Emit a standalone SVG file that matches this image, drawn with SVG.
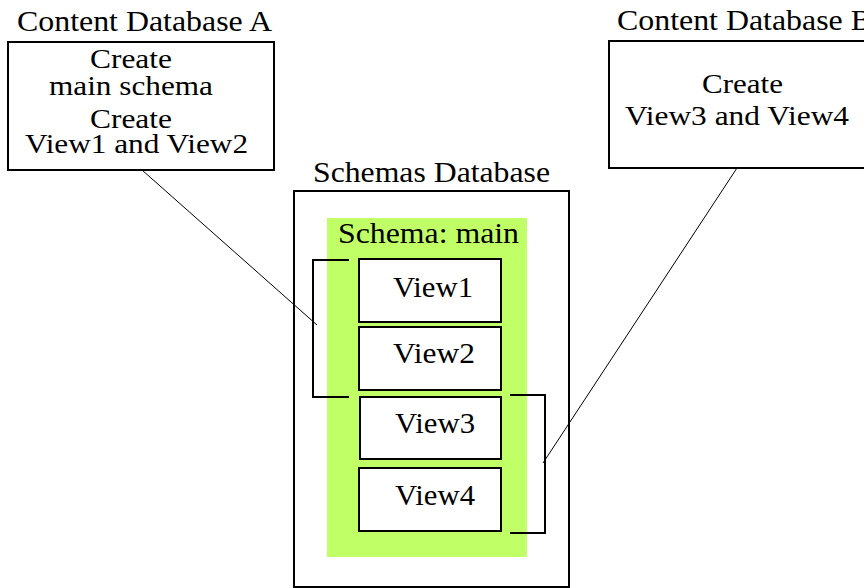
<svg xmlns="http://www.w3.org/2000/svg" width="864" height="588" viewBox="0 0 864 588">
<style>
text{font-family:"Liberation Serif","Times New Roman",serif;font-size:29px;fill:#000}
.s{font-size:27px}
.box{fill:#fff;stroke:#000;stroke-width:2}
.br{fill:none;stroke:#000;stroke-width:2}
.ln{fill:none;stroke:#000;stroke-width:1}
</style>
<rect width="864" height="588" fill="#fff"/>
<g id="dbA">
<text x="17" y="31" textLength="255" lengthAdjust="spacingAndGlyphs">Content Database A</text>
<rect class="box" x="8" y="42" width="266" height="128"/>
<text class="s" x="90" y="68" textLength="82" lengthAdjust="spacingAndGlyphs">Create</text>
<text class="s" x="49" y="95" textLength="164" lengthAdjust="spacingAndGlyphs">main schema</text>
<text class="s" x="90" y="128" textLength="82" lengthAdjust="spacingAndGlyphs">Create</text>
<text class="s" x="25" y="153" textLength="223" lengthAdjust="spacingAndGlyphs">View1 and View2</text>
</g>
<g id="dbB">
<text x="617" y="30" textLength="255" lengthAdjust="spacingAndGlyphs">Content Database B</text>
<rect class="box" x="609" y="41" width="265" height="127"/>
<text class="s" x="702" y="93" textLength="81" lengthAdjust="spacingAndGlyphs">Create</text>
<text class="s" x="625" y="125" textLength="224" lengthAdjust="spacingAndGlyphs">View3 and View4</text>
</g>
<g id="schemasDb">
<text x="313" y="182" textLength="237" lengthAdjust="spacingAndGlyphs">Schemas Database</text>
<rect class="box" x="294" y="191" width="275" height="396"/>
</g>
<g id="schemaMain">
<rect x="327" y="218" width="200" height="339" fill="#c0ff66"/>
<text x="338" y="243" textLength="181" lengthAdjust="spacingAndGlyphs">Schema: main</text>
</g>
<g id="view1">
<rect class="box" x="359" y="259" width="142" height="63"/>
<text x="393" y="297" textLength="80" lengthAdjust="spacingAndGlyphs">View1</text>
</g>
<g id="view2">
<rect class="box" x="359" y="327" width="142" height="63"/>
<text x="393" y="363" textLength="82" lengthAdjust="spacingAndGlyphs">View2</text>
</g>
<g id="view3">
<rect class="box" x="360" y="397" width="141" height="62"/>
<text x="395" y="433" textLength="80" lengthAdjust="spacingAndGlyphs">View3</text>
</g>
<g id="view4">
<rect class="box" x="359" y="468" width="142" height="63"/>
<text x="395" y="505" textLength="80" lengthAdjust="spacingAndGlyphs">View4</text>
</g>
<g id="connectors">
<polyline class="br" points="349,260 313,260 313,397 349,397"/>
<polyline class="br" points="510,395 545,395 545,533 510,533"/>
<line class="ln" x1="142" y1="170" x2="317" y2="325"/>
<line class="ln" x1="737" y1="168" x2="543" y2="463"/>
</g>
</svg>
